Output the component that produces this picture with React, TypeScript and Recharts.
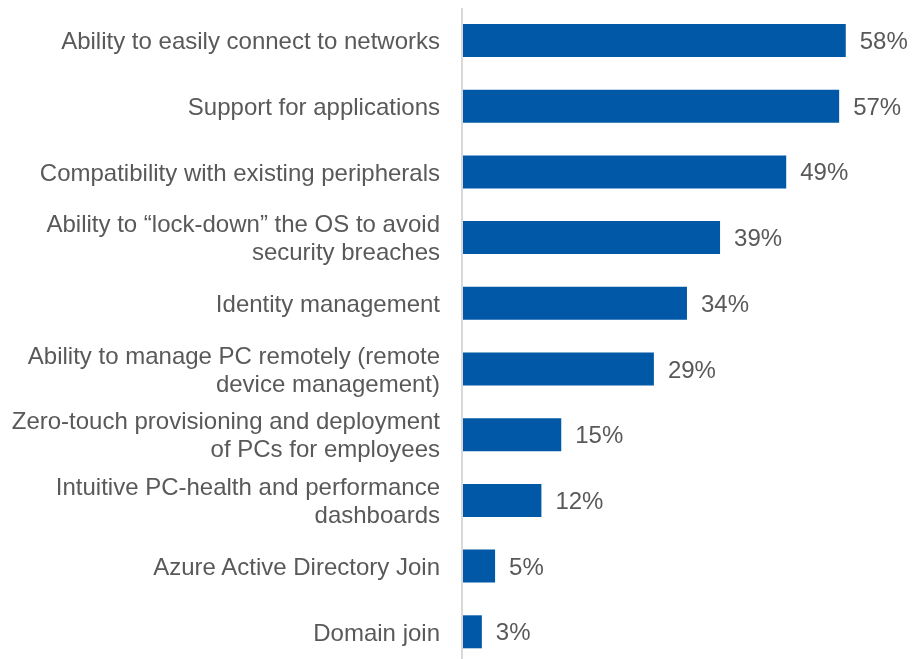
import { BarChart, Bar, XAxis, YAxis, LabelList } from 'recharts';

const categories = [
    'Ability to easily connect to networks',
    'Support for applications',
    'Compatibility with existing peripherals',
    'Ability to \u201clock-down\u201d the OS to avoid\nsecurity breaches',
    'Identity management',
    'Ability to manage PC remotely (remote\ndevice management)',
    'Zero-touch provisioning and deployment\nof PCs for employees',
    'Intuitive PC-health and performance\ndashboards',
    'Azure Active Directory Join',
    'Domain join',
];

const shares = [58, 57, 49, 39, 34, 29, 15, 12, 5, 3];

const data = categories.map((label, i) => ({ label, value: shares[i] }));

const CategoryTick = ({ x, y, payload }: any) => {
    const lines: string[] = String(payload.value).split('\n');
    const lh = 28;
    const start = -((lines.length - 1) * lh) / 2;
    return (
        <text
            x={x}
            y={y}
            textAnchor='end'
            fill='#595959'
            fontSize={24}
            fontFamily='Liberation Sans, Arial, sans-serif'
        >
            {lines.map((line, i) => (
                <tspan key={i} x={x} y={y + start + i * lh} dy='0.35em'>
                    {line}
                </tspan>
            ))}
        </text>
    );
};

export default function App() {
    return (
        <div style={{ position: 'fixed', top: 0, left: 0, width: 912, height: 659, overflow: 'hidden' }}>
            <BarChart
                width={912}
                height={665}
                data={data}
                layout='vertical'
                margin={{ top: 8, right: 53, bottom: 0, left: 8 }}
                barCategoryGap={33}
            >
                <XAxis type='number' domain={[0, 60]} hide />
                <YAxis
                    type='category'
                    dataKey='label'
                    width={454}
                    axisLine={{ stroke: '#d9d9d9', strokeWidth: 2 }}
                    tickLine={false}
                    tickMargin={16}
                    tick={<CategoryTick />}
                    interval={0}
                />
                <Bar dataKey='value' fill='#0058a6' barSize={33} isAnimationActive={false}>
                    <LabelList
                        dataKey='value'
                        position='right'
                        offset={14}
                        formatter={(v: any) => `${v}%`}
                        fill='#595959'
                        fontSize={24}
                        fontFamily='Liberation Sans, Arial, sans-serif'
                    />
                </Bar>
            </BarChart>
        </div>
    );
}
